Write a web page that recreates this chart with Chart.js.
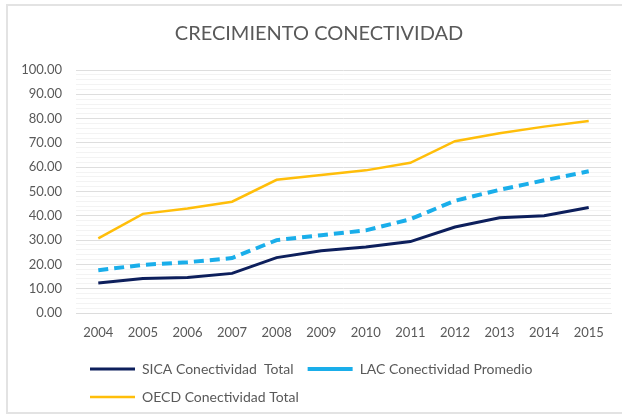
<!DOCTYPE html>
<html>
<head>
<meta charset="utf-8">
<script src="https://cdn.jsdelivr.net/npm/chart.js@4"></script>
<style>
  html, body { margin: 0; padding: 0; background: #ffffff; }
  #wrap { position: relative; width: 622px; height: 419px; overflow: hidden; }
  #frame { position: absolute; left: 6px; top: 4px; width: 640px; height: 410px; border: 2px solid #e3e3e3; box-sizing: border-box; pointer-events: none; }
  canvas { position: absolute; left: 0; top: 0; }
</style>
</head>
<body>
<div id="wrap">
  <canvas id="c" width="622" height="419"></canvas>
  <div id="frame"></div>
</div>
<script>
const years = ['2004','2005','2006','2007','2008','2009','2010','2011','2012','2013','2014','2015'];
const sicaTotal = [12.3, 14.2, 14.6, 16.3, 22.8, 25.6, 27.2, 29.4, 35.4, 39.2, 40.0, 43.4];
const lacPromedio = [17.6, 19.8, 20.9, 22.6, 30.0, 32.0, 34.0, 38.6, 46.2, 50.7, 54.6, 58.3];
const oecdTotal = [30.7, 40.8, 43.0, 45.8, 54.8, 56.8, 58.7, 61.8, 70.7, 74.0, 76.7, 79.0];
const seriesNames = ['SICA Conectividad  Total', 'LAC Conectividad Promedio', 'OECD Conectividad Total'];
const titleText = 'CRECIMIENTO CONECTIVIDAD';

const FONT = 'Lato, "Open Sans", sans-serif';
const GREY = '#595959';

new Chart(document.getElementById('c'), {
  type: 'line',
  data: {
    labels: years,
    datasets: [
      { label: seriesNames[0], data: sicaTotal, borderColor: '#0d1f5c', backgroundColor: '#0d1f5c', borderWidth: 3, pointRadius: 0, tension: 0, pointStyle: 'line' },
      { label: seriesNames[1], data: lacPromedio, borderColor: '#1aaeea', backgroundColor: '#1aaeea', borderWidth: 4, borderDash: [10, 6], pointRadius: 0, tension: 0, pointStyle: 'line' },
      { label: seriesNames[2], data: oecdTotal, borderColor: '#ffbe0a', backgroundColor: '#ffbe0a', borderWidth: 2.5, pointRadius: 0, tension: 0, pointStyle: 'line' }
    ]
  },
  options: {
    responsive: false,
    animation: false,
    devicePixelRatio: 1,
    layout: { padding: { left: 16, right: 0, top: 0, bottom: 5 } },
    plugins: {
      title: {
        display: true,
        text: titleText,
        color: GREY,
        font: { family: FONT, size: 20, weight: 'normal' },
        padding: { top: 22, bottom: 24 }
      },
      legend: {
        display: true,
        position: 'bottom',
        align: 'start',
        fullSize: false,
        labels: {
          color: GREY,
          font: { family: FONT, size: 14 },
          usePointStyle: true,
          pointStyle: 'line',
          pointStyleWidth: 45,
          boxHeight: 14,
          padding: 14
        }
      },
      tooltip: { enabled: false }
    },
    scales: {
      x: {
        offset: true,
        grid: { display: false, drawTicks: false },
        border: { display: true, color: '#dcdcdc', width: 1 },
        ticks: { color: GREY, font: { family: FONT, size: 13 }, padding: 12, maxRotation: 0 },
        afterFit: s => { s.height = 35; }
      },
      y: {
        position: 'left',
        min: 0,
        max: 100,
        grid: {
          drawTicks: false,
          color: ctx => (ctx.tick && Math.round(ctx.tick.value) % 10 === 0) ? '#dedede' : '#f3f3f3',
          lineWidth: 1
        },
        border: { display: false },
        ticks: {
          stepSize: 2,
          autoSkip: false,
          color: GREY,
          font: { family: FONT, size: 13 },
          padding: 14,
          callback: v => (Math.round(v) % 10 === 0) ? v.toFixed(2) : ''
        },
        afterFit: s => { s.width = 60; }
      },
      yRightSpace: {
        type: 'linear',
        position: 'right',
        display: true,
        grid: { display: false, drawTicks: false },
        border: { display: false },
        ticks: { display: false },
        afterFit: s => { s.width = 11; }
      }
    }
  }
});
</script>
</body>
</html>
